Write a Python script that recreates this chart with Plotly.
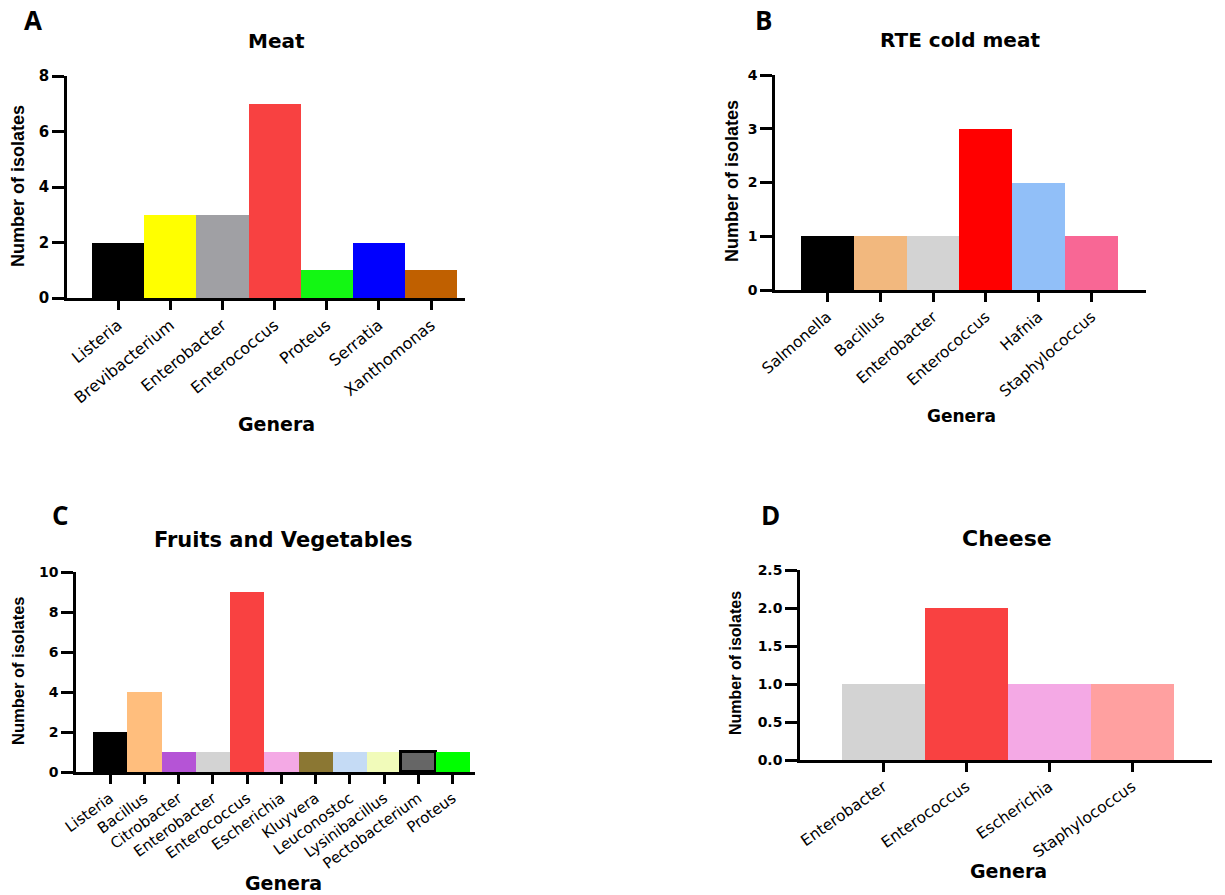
import plotly.graph_objects as go

W, H = 1225, 895

# ---------------- data ----------------
meat_genera = ["Listeria", "Brevibacterium", "Enterobacter", "Enterococcus", "Proteus", "Serratia", "Xanthomonas"]
meat_counts = [2, 3, 3, 7, 1, 2, 1]
meat_colors = ["#000000", "#FFFF00", "#A0A0A4", "#F84141", "#13F713", "#0000FF", "#C06000"]

rte_genera = ["Salmonella", "Bacillus", "Enterobacter", "Enterococcus", "Hafnia", "Staphylococcus"]
rte_counts = [1, 1, 1, 3, 2, 1]
rte_colors = ["#000000", "#F2B87E", "#D3D3D3", "#FF0000", "#91BFF8", "#F86795"]

fv_genera = ["Listeria", "Bacillus", "Citrobacter", "Enterobacter", "Enterococcus", "Escherichia",
             "Kluyvera", "Leuconostoc", "Lysinibacillus", "Pectobacterium", "Proteus"]
fv_counts = [2, 4, 1, 1, 9, 1, 1, 1, 1, 1, 1]
fv_colors = ["#000000", "#FFBE7D", "#B554D6", "#D3D3D3", "#F94141", "#F4A9E5",
             "#8B7733", "#C5DBF5", "#F1FBBA", "#666666", "#00FF00"]
fv_border = [0, 0, 0, 0, 0, 0, 0, 0, 0, 3, 0]

cheese_genera = ["Enterobacter", "Enterococcus", "Escherichia", "Staphylococcus"]
cheese_counts = [1, 2, 1, 1]
cheese_colors = ["#D3D3D3", "#F94141", "#F4A9E5", "#FFA0A0"]

panel_titles = ["Meat", "RTE cold meat", "Fruits and Vegetables", "Cheese"]
panel_letters = ["A", "B", "C", "D"]
x_title = "Genera"
y_title = "Number of isolates"

# ---------------- layout helpers (pixel geometry) ----------------
def px(x):
    return x / W

def py(y):
    return 1 - y / H

panels = [
    dict(genera=meat_genera, counts=meat_counts, colors=meat_colors, border=None,
         xdom=(67, 465), ydom=(298, 76), xrange=(-0.98, 6.65), yrange=(0, 8), dtick=2, fmt="",
         tickangle=-39, tickfs=16, ytickfs=15,
         title_xy=(276, 41), title_fs=20, letter_xy=(33, 20),
         xt_xy=(276, 424), xt_fs=19, yt_xy=(18, 186), yt_fs=18),
    dict(genera=rte_genera, counts=rte_counts, colors=rte_colors, border=None,
         xdom=(775, 1146), ydom=(290, 75), xrange=(-0.99, 6.03), yrange=(0, 4), dtick=1, fmt="",
         tickangle=-41, tickfs=15.5, ytickfs=14,
         title_xy=(960, 40), title_fs=20, letter_xy=(763, 20),
         xt_xy=(961, 416), xt_fs=17, yt_xy=(732, 181), yt_fs=18),
    dict(genera=fv_genera, counts=fv_counts, colors=fv_colors, border=fv_border,
         xdom=(76, 475), ydom=(772, 572), xrange=(-0.996, 10.65), yrange=(0, 10), dtick=2, fmt="",
         tickangle=-36, tickfs=15, ytickfs=14,
         title_xy=(283, 540), title_fs=21, letter_xy=(60, 515),
         xt_xy=(283, 883), xt_fs=19, yt_xy=(18, 671), yt_fs=16.5),
    dict(genera=cheese_genera, counts=cheese_counts, colors=cheese_colors, border=None,
         xdom=(800, 1212), ydom=(760, 570), xrange=(-1.006, 3.96), yrange=(0, 2.5), dtick=0.5, fmt=".1f",
         tickangle=-35, tickfs=15.5, ytickfs=14,
         title_xy=(1007, 538), title_fs=22, letter_xy=(770, 515),
         xt_xy=(1008, 871), xt_fs=19, yt_xy=(735, 663), yt_fs=16),
]

fig = go.Figure()
annotations = []
layout_axes = {}

for i, p in enumerate(panels, start=1):
    xa = "x" if i == 1 else f"x{i}"
    ya = "y" if i == 1 else f"y{i}"
    line = dict(color="black", width=p["border"]) if p["border"] else dict(width=0)
    fig.add_trace(go.Bar(x=p["genera"], y=p["counts"], marker=dict(color=p["colors"], line=line),
                         xaxis=xa, yaxis=ya, width=1.0, showlegend=False))
    xkey = "xaxis" if i == 1 else f"xaxis{i}"
    ykey = "yaxis" if i == 1 else f"yaxis{i}"
    layout_axes[xkey] = dict(
        domain=[px(p["xdom"][0]), px(p["xdom"][1])], anchor=ya, type="category",
        range=list(p["xrange"]), showline=True, linecolor="black", linewidth=2.5,
        ticks="outside", ticklen=9, tickwidth=2.5, tickcolor="black",
        tickangle=p["tickangle"], tickfont=dict(family="DejaVu Sans", size=p["tickfs"], color="black"),
        showgrid=False, zeroline=False, fixedrange=True, automargin=False)
    layout_axes[ykey] = dict(
        domain=[py(p["ydom"][0]), py(p["ydom"][1])], anchor=xa,
        range=list(p["yrange"]), dtick=p["dtick"], tick0=0, tickformat=p["fmt"],
        showline=True, linecolor="black", linewidth=2.5,
        ticks="outside", ticklen=12, tickwidth=2.5, tickcolor="black",
        tickfont=dict(family="DejaVu Sans", size=p["ytickfs"], color="black", weight="bold"),
        showgrid=False, zeroline=False, fixedrange=True, automargin=False)
    # panel title
    annotations.append(dict(text=f"<b>{panel_titles[i-1]}</b>", x=px(p["title_xy"][0]), y=py(p["title_xy"][1]),
                            xref="paper", yref="paper", showarrow=False, xanchor="center", yanchor="middle",
                            font=dict(family="DejaVu Sans", size=p["title_fs"], color="black")))
    # panel letter
    annotations.append(dict(text=f"<b>{panel_letters[i-1]}</b>", x=px(p["letter_xy"][0]), y=py(p["letter_xy"][1]),
                            xref="paper", yref="paper", showarrow=False, xanchor="center", yanchor="middle",
                            font=dict(family="Open Sans", size=26, color="black")))
    # x title
    annotations.append(dict(text=f"<b>{x_title}</b>", x=px(p["xt_xy"][0]), y=py(p["xt_xy"][1]),
                            xref="paper", yref="paper", showarrow=False, xanchor="center", yanchor="middle",
                            font=dict(family="DejaVu Sans", size=p["xt_fs"], color="black")))
    # y title
    annotations.append(dict(text=f"<b>{y_title}</b>", x=px(p["yt_xy"][0]), y=py(p["yt_xy"][1]),
                            xref="paper", yref="paper", showarrow=False, xanchor="center", yanchor="middle",
                            textangle=-90,
                            font=dict(family="Liberation Sans", size=p["yt_fs"], color="black")))

fig.update_layout(width=W, height=H, margin=dict(l=0, r=0, t=0, b=0, pad=0, autoexpand=False),
                  paper_bgcolor="white", plot_bgcolor="white", bargap=0,
                  annotations=annotations, showlegend=False, **layout_axes)

fig.write_html("out.html", config={"displayModeBar": False},
               post_script="document.body.style.margin='0px';document.body.style.overflow='hidden';")
